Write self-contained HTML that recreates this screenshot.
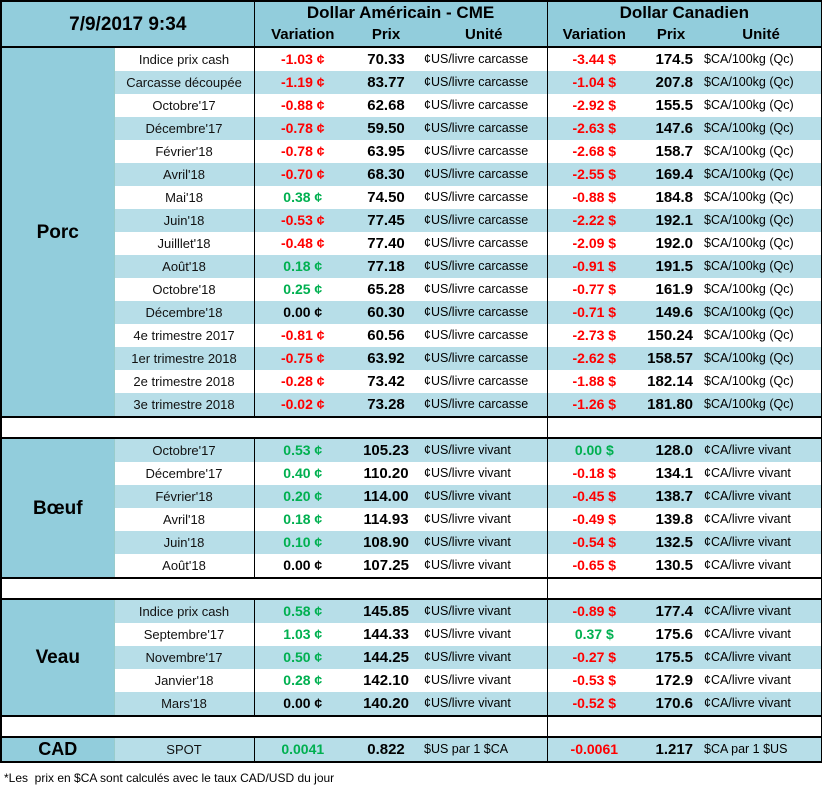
<!DOCTYPE html>
<html><head><meta charset="utf-8"><style>
body{margin:0;background:#fff;font-family:"Liberation Sans",sans-serif;}
table{position:absolute;left:0;top:0;border-collapse:collapse;table-layout:fixed;width:821px;border:2px solid #000;}
td{height:23px;padding:0;font-size:13px;white-space:nowrap;overflow:hidden;line-height:23px;vertical-align:middle;}
.h td{background:#92CDDC;font-weight:bold;}
.cat{background:#92CDDC;font-weight:bold;font-size:19px;text-align:center;border-right:1px solid #9cc;}
.n{text-align:center;color:#111;}
.v{text-align:center;font-weight:bold;font-size:14px;}
.p{text-align:center;font-weight:bold;font-size:15px;}
.pc{text-align:right;padding-right:8px;font-weight:bold;font-size:15px;}
.u{padding-left:3px;font-size:12.5px;}
.r{color:#f00}.g{color:#00B050}.k{color:#000}
.l td:not(.cat){background:#B7DEE8}
.bl{border-left:1px solid #000}
.gap td{height:19px;line-height:19px;border-top:2px solid #000;border-bottom:2px solid #000;background:#fff}
.foot{position:absolute;left:4px;top:771px;font-size:12px;}
</style></head><body>
<table>
<colgroup><col style="width:113px"><col style="width:140px"><col style="width:97px"><col style="width:70px"><col style="width:126px"><col style="width:94px"><col style="width:60px"><col style="width:121px"></colgroup>
<tr class="h"><td colspan="2" rowspan="2" style="text-align:center;font-size:19px;height:44px;border-bottom:2px solid #000">7/9/2017 9:34</td><td colspan="3" class="bl" style="text-align:center;font-size:17px;height:21px;line-height:21px">Dollar Américain - CME</td><td colspan="3" class="bl" style="text-align:center;font-size:17px;height:21px;line-height:21px">Dollar Canadien</td></tr>
<tr class="h" style="border-bottom:2px solid #000"><td class="bl" style="text-align:center;font-size:15px;height:22px;line-height:22px">Variation</td><td style="text-align:center;font-size:15px;line-height:22px">Prix</td><td style="text-align:center;font-size:15px;line-height:22px">Unité</td><td class="bl" style="text-align:center;font-size:15px;line-height:22px">Variation</td><td style="text-align:center;font-size:15px;line-height:22px">Prix</td><td style="text-align:center;font-size:15px;line-height:22px">Unité</td></tr>
<tr><td class="cat" rowspan="16">Porc</td><td class="n">Indice prix cash</td><td class="v r bl">-1.03 ¢</td><td class="p">70.33</td><td class="u">¢US/livre carcasse</td><td class="v r bl">-3.44 $</td><td class="pc">174.5</td><td class="u">$CA/100kg (Qc)</td></tr>
<tr class="l"><td class="n">Carcasse découpée</td><td class="v r bl">-1.19 ¢</td><td class="p">83.77</td><td class="u">¢US/livre carcasse</td><td class="v r bl">-1.04 $</td><td class="pc">207.8</td><td class="u">$CA/100kg (Qc)</td></tr>
<tr><td class="n">Octobre'17</td><td class="v r bl">-0.88 ¢</td><td class="p">62.68</td><td class="u">¢US/livre carcasse</td><td class="v r bl">-2.92 $</td><td class="pc">155.5</td><td class="u">$CA/100kg (Qc)</td></tr>
<tr class="l"><td class="n">Décembre'17</td><td class="v r bl">-0.78 ¢</td><td class="p">59.50</td><td class="u">¢US/livre carcasse</td><td class="v r bl">-2.63 $</td><td class="pc">147.6</td><td class="u">$CA/100kg (Qc)</td></tr>
<tr><td class="n">Février'18</td><td class="v r bl">-0.78 ¢</td><td class="p">63.95</td><td class="u">¢US/livre carcasse</td><td class="v r bl">-2.68 $</td><td class="pc">158.7</td><td class="u">$CA/100kg (Qc)</td></tr>
<tr class="l"><td class="n">Avril'18</td><td class="v r bl">-0.70 ¢</td><td class="p">68.30</td><td class="u">¢US/livre carcasse</td><td class="v r bl">-2.55 $</td><td class="pc">169.4</td><td class="u">$CA/100kg (Qc)</td></tr>
<tr><td class="n">Mai'18</td><td class="v g bl">0.38 ¢</td><td class="p">74.50</td><td class="u">¢US/livre carcasse</td><td class="v r bl">-0.88 $</td><td class="pc">184.8</td><td class="u">$CA/100kg (Qc)</td></tr>
<tr class="l"><td class="n">Juin'18</td><td class="v r bl">-0.53 ¢</td><td class="p">77.45</td><td class="u">¢US/livre carcasse</td><td class="v r bl">-2.22 $</td><td class="pc">192.1</td><td class="u">$CA/100kg (Qc)</td></tr>
<tr><td class="n">Juilllet'18</td><td class="v r bl">-0.48 ¢</td><td class="p">77.40</td><td class="u">¢US/livre carcasse</td><td class="v r bl">-2.09 $</td><td class="pc">192.0</td><td class="u">$CA/100kg (Qc)</td></tr>
<tr class="l"><td class="n">Août'18</td><td class="v g bl">0.18 ¢</td><td class="p">77.18</td><td class="u">¢US/livre carcasse</td><td class="v r bl">-0.91 $</td><td class="pc">191.5</td><td class="u">$CA/100kg (Qc)</td></tr>
<tr><td class="n">Octobre'18</td><td class="v g bl">0.25 ¢</td><td class="p">65.28</td><td class="u">¢US/livre carcasse</td><td class="v r bl">-0.77 $</td><td class="pc">161.9</td><td class="u">$CA/100kg (Qc)</td></tr>
<tr class="l"><td class="n">Décembre'18</td><td class="v k bl">0.00 ¢</td><td class="p">60.30</td><td class="u">¢US/livre carcasse</td><td class="v r bl">-0.71 $</td><td class="pc">149.6</td><td class="u">$CA/100kg (Qc)</td></tr>
<tr><td class="n">4e trimestre 2017</td><td class="v r bl">-0.81 ¢</td><td class="p">60.56</td><td class="u">¢US/livre carcasse</td><td class="v r bl">-2.73 $</td><td class="pc">150.24</td><td class="u">$CA/100kg (Qc)</td></tr>
<tr class="l"><td class="n">1er trimestre 2018</td><td class="v r bl">-0.75 ¢</td><td class="p">63.92</td><td class="u">¢US/livre carcasse</td><td class="v r bl">-2.62 $</td><td class="pc">158.57</td><td class="u">$CA/100kg (Qc)</td></tr>
<tr><td class="n">2e trimestre 2018</td><td class="v r bl">-0.28 ¢</td><td class="p">73.42</td><td class="u">¢US/livre carcasse</td><td class="v r bl">-1.88 $</td><td class="pc">182.14</td><td class="u">$CA/100kg (Qc)</td></tr>
<tr class="l"><td class="n">3e trimestre 2018</td><td class="v r bl">-0.02 ¢</td><td class="p">73.28</td><td class="u">¢US/livre carcasse</td><td class="v r bl">-1.26 $</td><td class="pc">181.80</td><td class="u">$CA/100kg (Qc)</td></tr>
<tr class="gap"><td colspan="5"></td><td colspan="3" class="bl"></td></tr>
<tr class="l"><td class="cat" rowspan="6">Bœuf</td><td class="n">Octobre'17</td><td class="v g bl">0.53 ¢</td><td class="p">105.23</td><td class="u">¢US/livre vivant</td><td class="v g bl">0.00 $</td><td class="pc">128.0</td><td class="u">¢CA/livre vivant</td></tr>
<tr><td class="n">Décembre'17</td><td class="v g bl">0.40 ¢</td><td class="p">110.20</td><td class="u">¢US/livre vivant</td><td class="v r bl">-0.18 $</td><td class="pc">134.1</td><td class="u">¢CA/livre vivant</td></tr>
<tr class="l"><td class="n">Février'18</td><td class="v g bl">0.20 ¢</td><td class="p">114.00</td><td class="u">¢US/livre vivant</td><td class="v r bl">-0.45 $</td><td class="pc">138.7</td><td class="u">¢CA/livre vivant</td></tr>
<tr><td class="n">Avril'18</td><td class="v g bl">0.18 ¢</td><td class="p">114.93</td><td class="u">¢US/livre vivant</td><td class="v r bl">-0.49 $</td><td class="pc">139.8</td><td class="u">¢CA/livre vivant</td></tr>
<tr class="l"><td class="n">Juin'18</td><td class="v g bl">0.10 ¢</td><td class="p">108.90</td><td class="u">¢US/livre vivant</td><td class="v r bl">-0.54 $</td><td class="pc">132.5</td><td class="u">¢CA/livre vivant</td></tr>
<tr><td class="n">Août'18</td><td class="v k bl">0.00 ¢</td><td class="p">107.25</td><td class="u">¢US/livre vivant</td><td class="v r bl">-0.65 $</td><td class="pc">130.5</td><td class="u">¢CA/livre vivant</td></tr>
<tr class="gap"><td colspan="5"></td><td colspan="3" class="bl"></td></tr>
<tr class="l"><td class="cat" rowspan="5">Veau</td><td class="n">Indice prix cash</td><td class="v g bl">0.58 ¢</td><td class="p">145.85</td><td class="u">¢US/livre vivant</td><td class="v r bl">-0.89 $</td><td class="pc">177.4</td><td class="u">¢CA/livre vivant</td></tr>
<tr><td class="n">Septembre'17</td><td class="v g bl">1.03 ¢</td><td class="p">144.33</td><td class="u">¢US/livre vivant</td><td class="v g bl">0.37 $</td><td class="pc">175.6</td><td class="u">¢CA/livre vivant</td></tr>
<tr class="l"><td class="n">Novembre'17</td><td class="v g bl">0.50 ¢</td><td class="p">144.25</td><td class="u">¢US/livre vivant</td><td class="v r bl">-0.27 $</td><td class="pc">175.5</td><td class="u">¢CA/livre vivant</td></tr>
<tr><td class="n">Janvier'18</td><td class="v g bl">0.28 ¢</td><td class="p">142.10</td><td class="u">¢US/livre vivant</td><td class="v r bl">-0.53 $</td><td class="pc">172.9</td><td class="u">¢CA/livre vivant</td></tr>
<tr class="l"><td class="n">Mars'18</td><td class="v k bl">0.00 ¢</td><td class="p">140.20</td><td class="u">¢US/livre vivant</td><td class="v r bl">-0.52 $</td><td class="pc">170.6</td><td class="u">¢CA/livre vivant</td></tr>
<tr class="gap"><td colspan="5"></td><td colspan="3" class="bl"></td></tr>
<tr class="l"><td class="cat" style="font-size:18px">CAD</td><td class="n">SPOT</td><td class="v g bl">0.0041</td><td class="p">0.822</td><td class="u">$US par 1 $CA</td><td class="v r bl">-0.0061</td><td class="pc">1.217</td><td class="u">$CA par 1 $US</td></tr>
</table>
<div class="foot">*Les &nbsp;prix en $CA sont calculés avec le taux CAD/USD du jour</div>
</body></html>
